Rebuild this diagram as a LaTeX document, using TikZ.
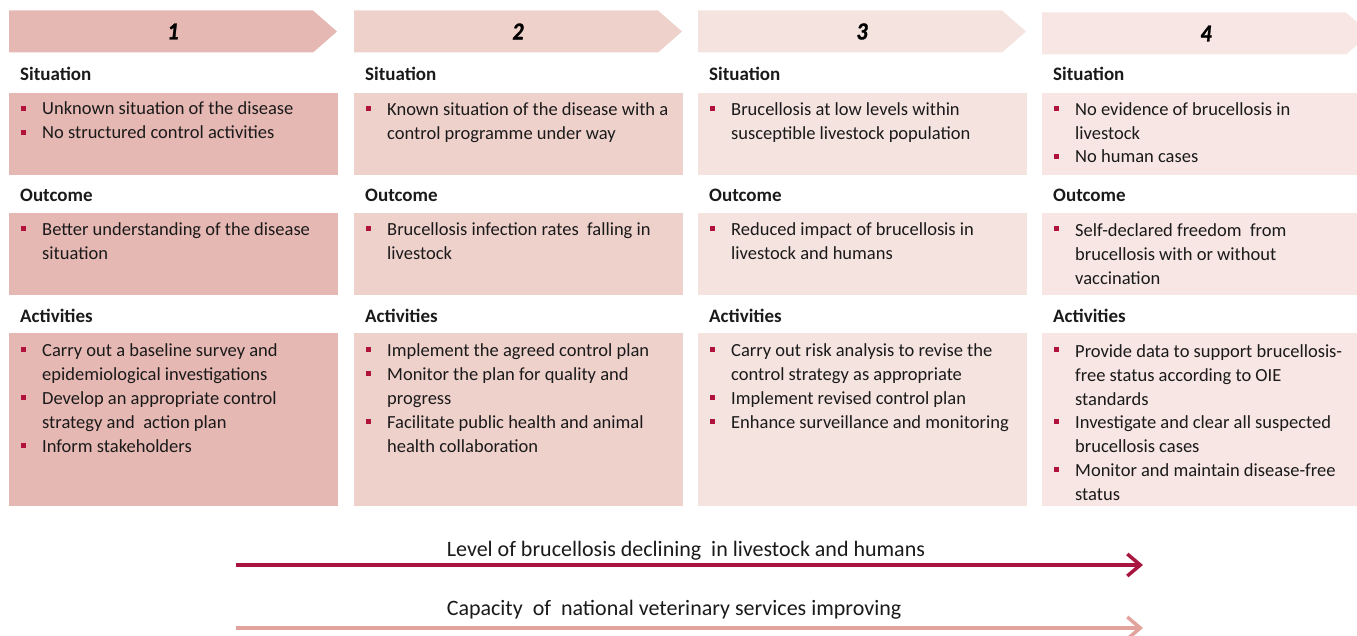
\documentclass[tikz,border=0pt]{standalone}
\usepackage{fontspec}
\setmainfont{Carlito}
\newfontfamily\stagefont{Carlito}[FakeBold=1.2, FakeStretch=0.9]
\usetikzlibrary{arrows.meta}

\definecolor{colA}{HTML}{E6B8B3}
\definecolor{colB}{HTML}{EFD1CC}
\definecolor{colC}{HTML}{F5E3E0}
\definecolor{colD}{HTML}{F7E6E3}
\definecolor{bulred}{HTML}{B0123C}
\definecolor{ink}{HTML}{1A1A1A}
\definecolor{darkarrow}{HTML}{A8163F}
\definecolor{lightarrow}{HTML}{E2A39D}

\tikzset{
  lbl/.style={anchor=base west, inner sep=0pt, text=ink,
    font=\bfseries\fontsize{19}{24}\selectfont},
  itm/.style={anchor=base west, inner sep=0pt, align=left, text=ink,
    font=\fontsize{18.5}{24}\selectfont},
  bul/.style={fill=bulred, minimum size=5pt, inner sep=0pt},
  num/.style={inner sep=0pt, text=black,
    font=\stagefont\bfseries\itshape\fontsize{24.5}{24}\selectfont},
  trend/.style={anchor=base, inner sep=0pt, text=ink,
    font=\fontsize{22}{26}\selectfont},
  trendarrow/.style={line width=3.5pt,
    -{Straight Barb[length=13pt,width=22pt,line width=3.5pt]}},
}

% one bullet item: name, text x, first baseline y, number of lines, text
% (a multi-line node sits on the baseline of its last line)
\newcommand\bitem[5]{%
  \node[bul] (#1b) at (#2-18.5,#3-6.8) {};
  \node[itm] (#1) at (#2,#3+24*#4-24+0.8*#4-0.8) {#5};}

\begin{document}
\begin{tikzpicture}[x=1pt,y=-1pt]
\path[use as bounding box, clip] (0,0) rectangle (1357,636);

% stage headers, section labels and boxes
\foreach \L/\c/\n/\t in {9/colA/1/10.5, 354/colB/2/10.5, 698/colC/3/10.5, 1042/colD/4/12.5}{
  \fill[\c] (\L,\t) -- (\L+304,\t) -- (\L+328,\t+21) -- (\L+304,\t+42)
            -- (\L,\t+42) -- cycle;
  \node[num] (h\n) at (\L+164,\t+21) {\n};
  \fill[\c] (\L,93) rectangle (\L+329,175);
  \fill[\c] (\L,213) rectangle (\L+329,295);
  \fill[\c] (\L,333) rectangle (\L+329,506);
  \node[lbl] (sit\n) at (\L+11,81) {Situation};
  \node[lbl] (out\n) at (\L+11,201.5) {Outcome};
  \node[lbl] (act\n) at (\L+11,322.5) {Activities};
}

% stage 1
\bitem{sA1}{42}{115}{1}{Unknown situation of the disease}
\bitem{sA2}{42}{139}{1}{No structured control activities}
\bitem{oA1}{42}{235}{2}{Better understanding of the disease\\situation}
\bitem{aA1}{42}{356}{2}{Carry out a baseline survey and\\epidemiological investigations}
\bitem{aA2}{42}{404}{2}{Develop an appropriate control\\strategy and\ \ action plan}
\bitem{aA3}{42}{452}{1}{Inform stakeholders}

% stage 2
\bitem{sB1}{387}{115}{2}{Known situation of the disease with a\\control programme under way}
\bitem{oB1}{387}{235}{2}{Brucellosis infection rates\ \ falling in\\livestock}
\bitem{aB1}{387}{356}{1}{Implement the agreed control plan}
\bitem{aB2}{387}{380}{2}{Monitor the plan for quality and\\progress}
\bitem{aB3}{387}{428}{2}{Facilitate public health and animal\\health collaboration}

% stage 3
\bitem{sC1}{731}{115}{2}{Brucellosis at low levels within\\susceptible livestock population}
\bitem{oC1}{731}{235}{2}{Reduced impact of brucellosis in\\livestock and humans}
\bitem{aC1}{731}{356}{2}{Carry out risk analysis to revise the\\control strategy as appropriate}
\bitem{aC2}{731}{404}{1}{Implement revised control plan}
\bitem{aC3}{731}{428}{1}{Enhance surveillance and monitoring}

% stage 4
\bitem{sD1}{1075}{115}{2}{No evidence of brucellosis in\\livestock}
\bitem{sD2}{1075}{163}{1}{No human cases}
\bitem{oD1}{1075}{235}{3}{Self-declared freedom\ \ from\\brucellosis with or without\\vaccination}
\bitem{aD1}{1075}{356}{3}{Provide data to support brucellosis-\\free status according to OIE\\standards}
\bitem{aD2}{1075}{428}{2}{Investigate and clear all suspected\\brucellosis cases}
\bitem{aD3}{1075}{476}{2}{Monitor and maintain disease-free\\status}

% trend arrows
\node[trend] (lvl) at (686,556) {Level of brucellosis declining\ \ in livestock and humans};
\coordinate (lvlS) at (236,565);
\coordinate (lvlE) at (1143,565);
\draw[trendarrow, darkarrow] (lvlS) -- (lvlE);

\node[trend] (cap) at (674,615) {Capacity\ \ of\ \ national veterinary services improving};
\coordinate (capS) at (236,628);
\coordinate (capE) at (1143,628);
\draw[trendarrow, lightarrow] (capS) -- (capE);
\end{tikzpicture}
\end{document}
